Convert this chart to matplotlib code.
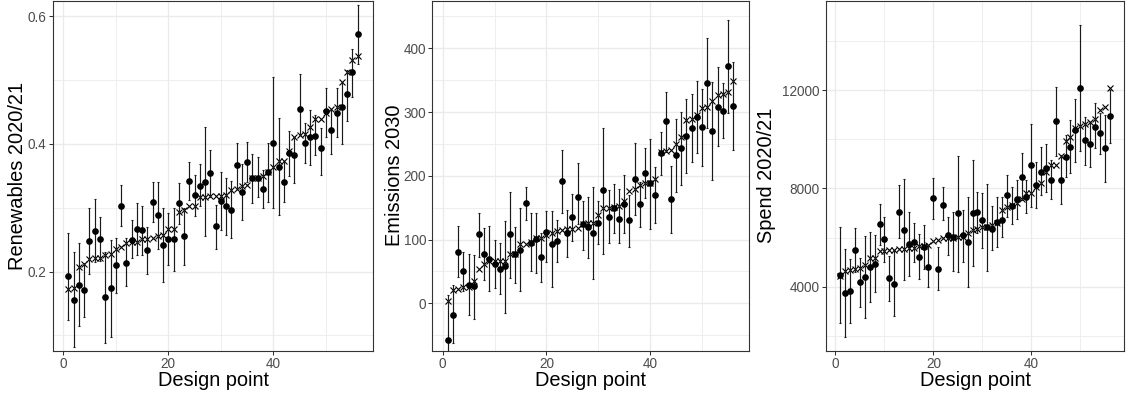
import numpy as np
import matplotlib
matplotlib.use("Agg")
import matplotlib.pyplot as plt
from matplotlib.ticker import MultipleLocator

plt.rcParams['font.family'] = ['Liberation Sans', 'DejaVu Sans']

# design points 1..56
design_point = np.arange(1, 57)

# --- Renewables 2020/21 ---
renew_emul = [0.173, 0.175, 0.207, 0.212, 0.220, 0.222, 0.222, 0.226, 0.227, 0.236,
              0.239, 0.244, 0.246, 0.246, 0.251, 0.251, 0.253, 0.255, 0.257, 0.266,
              0.266, 0.293, 0.297, 0.303, 0.303, 0.316, 0.317, 0.318, 0.318, 0.318,
              0.320, 0.327, 0.329, 0.334, 0.335, 0.346, 0.347, 0.350, 0.356, 0.364,
              0.373, 0.373, 0.388, 0.410, 0.414, 0.416, 0.426, 0.439, 0.439, 0.448,
              0.454, 0.458, 0.496, 0.513, 0.531, 0.538]
renew_sim = [0.193, 0.156, 0.179, 0.171, 0.248, 0.264, 0.251, 0.160, 0.175, 0.210,
             0.303, 0.214, 0.250, 0.267, 0.265, 0.234, 0.309, 0.289, 0.242, 0.251,
             0.251, 0.307, 0.255, 0.342, 0.320, 0.334, 0.341, 0.354, 0.271, 0.311,
             0.302, 0.297, 0.367, 0.324, 0.372, 0.346, 0.347, 0.329, 0.356, 0.402,
             0.364, 0.341, 0.385, 0.382, 0.454, 0.402, 0.410, 0.413, 0.394, 0.451,
             0.422, 0.449, 0.457, 0.478, 0.512, 0.572]
renew_lo = [0.124, 0.082, 0.115, 0.129, 0.197, 0.215, 0.217, 0.089, 0.097, 0.167,
            0.272, 0.177, 0.221, 0.226, 0.226, 0.196, 0.278, 0.236, 0.183, 0.210,
            0.201, 0.275, 0.210, 0.312, 0.287, 0.303, 0.255, 0.317, 0.236, 0.265,
            0.257, 0.252, 0.331, 0.281, 0.341, 0.308, 0.316, 0.299, 0.309, 0.300,
            0.288, 0.309, 0.350, 0.339, 0.414, 0.370, 0.367, 0.382, 0.351, 0.411,
            0.384, 0.411, 0.400, 0.435, 0.473, 0.525]
renew_hi = [0.261, 0.230, 0.244, 0.213, 0.299, 0.313, 0.286, 0.231, 0.249, 0.252,
            0.335, 0.252, 0.280, 0.307, 0.303, 0.270, 0.340, 0.341, 0.300, 0.291,
            0.299, 0.338, 0.299, 0.372, 0.351, 0.368, 0.427, 0.391, 0.305, 0.356,
            0.346, 0.342, 0.402, 0.368, 0.403, 0.384, 0.379, 0.359, 0.402, 0.504,
            0.440, 0.372, 0.420, 0.411, 0.510, 0.433, 0.453, 0.445, 0.424, 0.488,
            0.453, 0.487, 0.495, 0.515, 0.549, 0.618]

# --- Emissions 2030 ---
emis_emul = [4, 21, 22, 25, 26, 35, 53, 61, 66, 66, 66, 67, 78, 78, 93, 93, 96, 102, 102, 107,
             111, 114, 115, 116, 116, 118, 124, 126, 126, 138, 149, 150, 151, 152, 161, 176,
             179, 185, 188, 188, 195, 238, 239, 241, 250, 261, 287, 289, 295, 306, 308, 318,
             327, 328, 332, 349]
emis_sim = [-57.5, -19, 80, 51, 28, 27, 108, 77, 70, 61, 54, 59, 108, 77, 84, 157, 95, 101, 72, 112,
            93, 97, 192, 111, 135, 166, 125, 120, 111, 126, 177, 136, 149, 132, 156, 131,
            195, 155, 204, 188, 170, 235, 286, 163, 232, 243, 262, 275, 293, 276, 346, 270,
            308, 302, 372, 310]
emis_lo = [-134, -63, 41, 20, -18, -24, 72, 37, 20, 24, 14, -15, 40, 32, 19, 131, 50, 47, 34, 64,
           25, 65, 142, 72, 97, 124, 83, 71, 38, 93, 78, 95, 111, 94, 110, 89,
           138, 119, 165, 116, 126, 202, 238, 111, 174, 186, 204, 222, 236, 215, 275, 193,
           247, 260, 299, 241]
emis_hi = [13, 28, 121, 81, 77, 76, 142, 118, 121, 99, 94, 129, 175, 120, 149, 183, 141, 141, 110, 145,
           145, 131, 241, 147, 172, 220, 160, 167, 183, 160, 275, 178, 187, 180, 201, 170,
           252, 191, 243, 257, 214, 268, 331, 215, 289, 300, 321, 328, 349, 336, 416, 347,
           370, 345, 444, 379]

# --- Spend 2020/21 ---
spend_emul = [4440, 4650, 4678, 4718, 4772, 4900, 5152, 5152, 5464, 5464, 5491, 5491, 5518, 5550,
              5559, 5586, 5654, 5654, 5690, 5850, 5898, 5960, 5975, 5993, 6006, 6033, 6196, 6305,
              6359, 6440, 6440, 6508, 6576, 7118, 7227, 7322, 7417, 7566, 7796, 7823, 8067, 8230,
              8678, 8949, 8949, 9315, 9939, 10101, 10440, 10535, 10617, 10712, 10807, 11186,
              11322, 12068]
spend_sim = [4474, 3742, 3823, 5491, 4176, 4393, 4786, 4908, 6535, 5939, 4339, 4122, 7050, 6318,
             5749, 5803, 5220, 5627, 4800, 7593, 4700, 7322, 6088, 6033, 6983, 6088, 5817, 7010,
             7037, 6712, 6427, 6332, 6644, 6712, 7728, 7295, 7552, 8447, 7661, 8935, 8122, 8650,
             8840, 8325, 10739, 8325, 9261, 9695, 10373, 12095, 9966, 9803, 10508, 10237,
             9627, 10942]
spend_lo = [2508, 1966, 2508, 4610, 3186, 2739, 3389, 3796, 5695, 5017, 3430, 2806, 5966, 4271,
            4433, 5017, 4298, 4718, 3972, 6752, 3850, 6712, 5288, 4650, 4582, 5016, 3972, 4840,
            6169, 5559, 4650, 5491, 5600, 6006, 6847, 6535, 6739, 7525, 6983, 7254, 7186, 7729,
            7864, 7552, 9315, 7362, 8474, 8610, 9085, 9532, 8949, 8854, 9627, 9396, 8271, 9857]
spend_hi = [6440, 5532, 5111, 6373, 5152, 6061, 6210, 6101, 7349, 6847, 5247, 5491, 8135, 8379,
            7050, 6576, 6142, 6508, 5695, 8407, 5600, 8067, 6820, 7023, 9329, 7118, 7661, 9152,
            7864, 7796, 8162, 7281, 7661, 7634, 8528, 8067, 8339, 9423, 8339, 10603, 9085, 9695,
            9803, 9152, 12135, 9356, 10169, 10779, 11620, 14644, 10915, 10644, 11485, 11051,
            10983, 12000]


def draw_panel(ax, emul, sim, lo, hi, ylabel, ylim, major, minor, ylab_x):
    sim = np.asarray(sim, dtype=float)
    err = [sim - np.asarray(lo), np.asarray(hi) - sim]
    ax.plot(design_point, emul, ls='none', marker='x', ms=3.8, mew=0.8, color='black', zorder=3)
    ax.errorbar(design_point, sim, yerr=err, fmt='o', ms=3.8, color='black',
                ecolor='#1a1a1a', elinewidth=0.85, capsize=0.9, capthick=0.8, zorder=4)
    ax.set_xlim(-2.0, 59.0)
    ax.set_ylim(*ylim)
    ax.xaxis.set_major_locator(MultipleLocator(20))
    ax.xaxis.set_minor_locator(MultipleLocator(10))
    ax.yaxis.set_major_locator(MultipleLocator(major))
    ax.yaxis.set_minor_locator(MultipleLocator(minor))
    ax.grid(which='major', color='#EBEBEB', lw=1.0, zorder=0)
    ax.grid(which='minor', color='#EBEBEB', lw=0.6, zorder=0)
    ax.set_axisbelow(True)
    for sp in ax.spines.values():
        sp.set_color('#333333')
        sp.set_linewidth(0.8)
    ax.tick_params(which='major', length=2.6, width=0.75, color='#333333',
                   labelcolor='#4D4D4D', labelsize=9.8, pad=1.8)
    ax.tick_params(which='minor', length=0)
    ax.set_xlabel('Design point', fontsize=14.4, va='baseline')
    ax.xaxis.set_label_coords(0.5, -0.1017)
    ax.set_ylabel(ylabel, fontsize=14.4, va='baseline')
    ax.yaxis.set_label_coords(ylab_x, 0.5)


fig = plt.figure(figsize=(11.28, 3.96), dpi=100)
bottom = 1 - 350.7 / 396
height = 350.0 / 396

ax1 = fig.add_axes([52.7 / 1128, bottom, 320.6 / 1128, height])
ax2 = fig.add_axes([432.3 / 1128, bottom, 316.4 / 1128, height])
ax3 = fig.add_axes([825.7 / 1128, bottom, 298.6 / 1128, height])

draw_panel(ax1, renew_emul, renew_sim, renew_lo, renew_hi, 'Renewables 2020/21',
           (0.0762, 0.624), 0.2, 0.1, -0.0911)
draw_panel(ax2, emis_emul, emis_sim, emis_lo, emis_hi, 'Emissions 2030',
           (-74.4, 474.7), 100, 50, -0.1021)
draw_panel(ax3, spend_emul, spend_sim, spend_lo, spend_hi, 'Spend 2020/21',
           (1396, 15633), 4000, 2000, -0.1798)

fig.savefig('out.png', dpi=100)
